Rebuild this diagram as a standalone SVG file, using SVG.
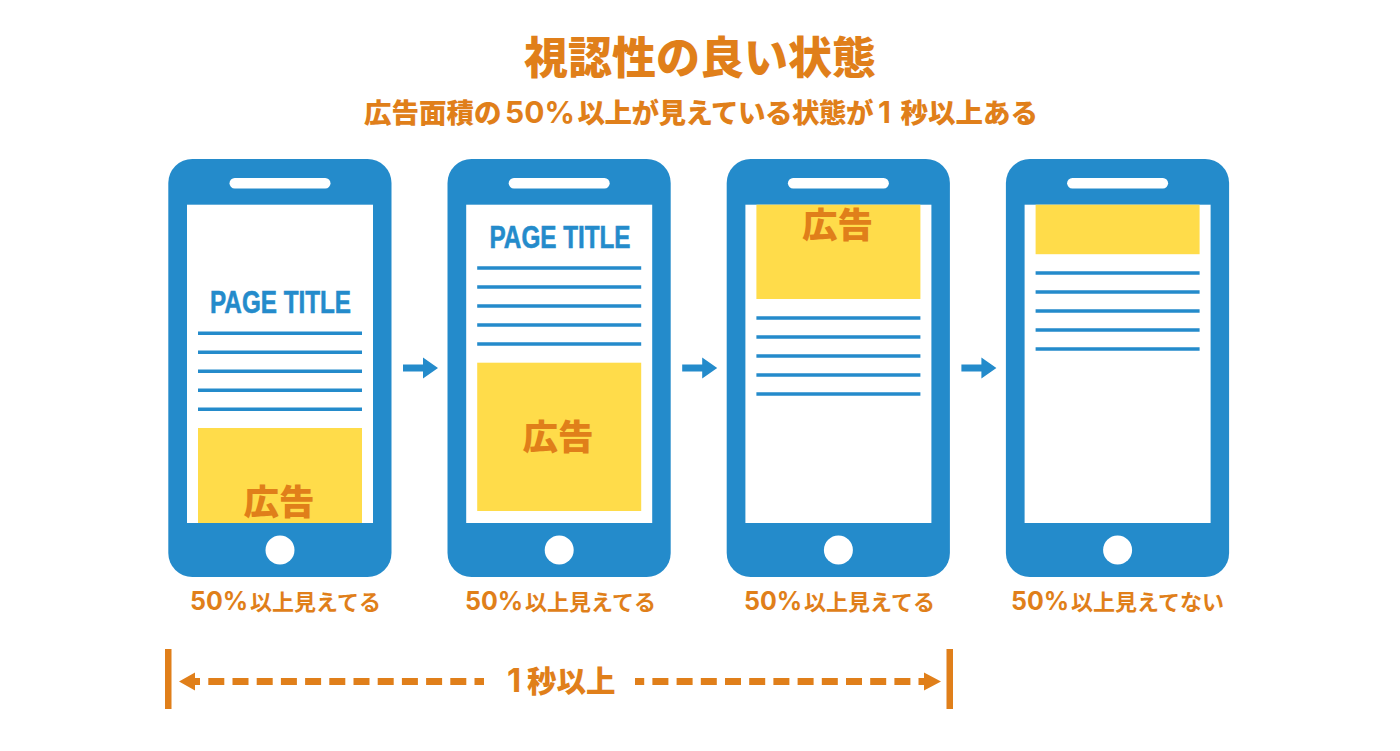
<svg xmlns="http://www.w3.org/2000/svg" width="1400" height="751" viewBox="0 0 1400 751">
<style>
.jp{font-family:"Noto Sans CJK JP","Noto Sans CJK SC",sans-serif;font-weight:900;fill:#e07f1a}
.num{font-family:Inter,"Liberation Sans",sans-serif;font-weight:700}
.lab{font-size:22px;font-weight:700}
.lab .num{font-size:25px}
.ad{font-size:35.5px;text-anchor:middle}
.body{fill:#248bcb}
.scr{fill:#fff}
.ln{stroke:#248bcb;stroke-width:3.5;fill:none}
.adbox{fill:#ffdc4a}
.pt{font-family:"Liberation Sans",sans-serif;font-weight:700;font-size:32px;fill:#248bcb;stroke:#248bcb;stroke-width:.6}
.dash{stroke:#e07f1a;stroke-width:7;fill:none}
</style>
<defs>
<g id="phone">
<rect class="body" x="168.3" y="159" width="223.200" height="418" rx="24"/>
<rect class="scr" x="187" y="204.700" width="186" height="318.300"/>
<rect class="scr" x="229.5" y="178" width="101" height="10.5" rx="5.25"/>
<circle class="scr" cx="280" cy="550" r="14.5"/>
</g>
<g id="lines">
<path class="ln" d="M0 0H164M0 19H164M0 38H164M0 57H164M0 76H164"/>
</g>
<path id="next" class="body" d="M0-3.5H20V-10.5L35 0 20 10.5V3.5H0Z"/>
</defs>
<g id="title">
<text class="jp" x="700" y="74" font-size="44" text-anchor="middle">視認性の良い状態</text>
<text class="jp" y="123" font-size="27.500"><tspan x="364">広告面積の</tspan><tspan class="num" x="505" font-size="30">50%</tspan><tspan x="577.500" letter-spacing="-.5">以上が見えている状態が</tspan><tspan class="num" x="878" font-size="30">1</tspan><tspan x="900.500">秒以上ある</tspan></text>
</g>
<g id="phone1">
<use href="#phone"/>
<text class="pt" x="210" y="313" textLength="141" lengthAdjust="spacingAndGlyphs">PAGE TITLE</text>
<use href="#lines" x="198" y="333.300"/>
<rect class="adbox" x="198" y="428" width="164" height="95"/>
<text class="jp ad" x="279" y="515">広告</text>
<text class="jp lab" y="610"><tspan class="num" x="190">50%</tspan><tspan x="250">以上見えてる</tspan></text>
</g>
<g id="phone2">
<use href="#phone" x="279.2"/>
<text class="pt" x="489.5" y="247.500" textLength="141" lengthAdjust="spacingAndGlyphs">PAGE TITLE</text>
<use href="#lines" x="477.2" y="268"/>
<rect class="adbox" x="477.2" y="362.700" width="164" height="148.300"/>
<text class="jp ad" x="558" y="450">広告</text>
<text class="jp lab" y="610"><tspan class="num" x="465">50%</tspan><tspan x="525">以上見えてる</tspan></text>
</g>
<g id="phone3">
<use href="#phone" x="558.4"/>
<rect class="adbox" x="756.4" y="204.700" width="164" height="94.300"/>
<text class="jp ad" x="837.500" y="238">広告</text>
<use href="#lines" x="756.4" y="318"/>
<text class="jp lab" y="610"><tspan class="num" x="744">50%</tspan><tspan x="804">以上見えてる</tspan></text>
</g>
<g id="phone4">
<use href="#phone" x="837.6"/>
<rect class="adbox" x="1035.6" y="204.700" width="164" height="49.500"/>
<use href="#lines" x="1035.6" y="273"/>
<text class="jp lab" y="610"><tspan class="num" x="1011">50%</tspan><tspan x="1071">以上見えてない</tspan></text>
</g>
<g id="connectors">
<use href="#next" x="403" y="368"/>
<use href="#next" x="682.2" y="368"/>
<use href="#next" x="961.4" y="368"/>
<rect x="165" y="649" width="6.5" height="60" fill="#e07f1a"/>
<rect x="946.5" y="649" width="6.5" height="60" fill="#e07f1a"/>
<path d="M179 681.5L195 672.5V678H200V685H195V690.5Z" fill="#e07f1a"/>
<path class="dash" d="M208.3 681.5H484" stroke-dasharray="16 8.2"/>
<path d="M941 681.5L924 672.5V678H918.500V685H924V690.500Z" fill="#e07f1a"/>
<path class="dash" d="M910.400 681.5H635" stroke-dasharray="16 8.2"/>
</g>
<g id="duration">
<text class="jp" y="692" font-size="29.500" font-weight="700"><tspan class="num" x="507" font-size="33">1</tspan><tspan x="527">秒以上</tspan></text>
</g>
</svg>
